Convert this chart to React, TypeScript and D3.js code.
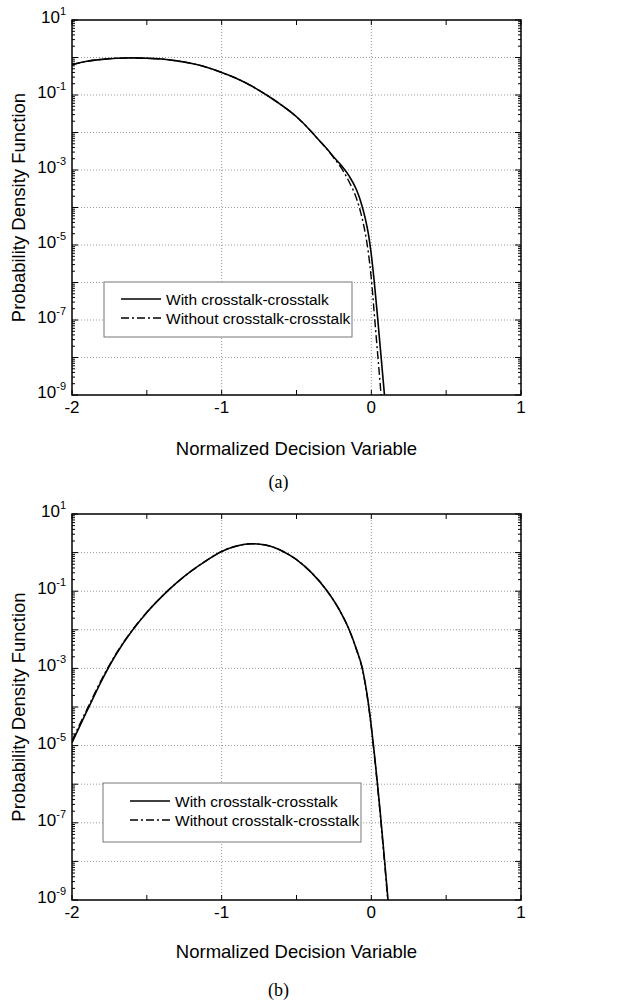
import React from "react";
import * as d3 from "d3";

// ---------- data ----------
// Panel (a)
const aSolidX = [-2.0, -1.9, -1.8, -1.7, -1.6, -1.5, -1.4, -1.3, -1.2, -1.1, -1.0, -0.9, -0.8, -0.7, -0.6, -0.5, -0.4, -0.36, -0.3, -0.25, -0.2, -0.15, -0.1, -0.07, -0.04, -0.02, 0.0, 0.02, 0.04, 0.06, 0.08, 0.09];
const aSolidP = [0.646, 0.794, 0.891, 0.955, 0.977, 0.955, 0.912, 0.813, 0.692, 0.55, 0.398, 0.275, 0.174, 0.1, 0.0537, 0.0263, 0.0105, 0.00692, 0.0038, 0.00219, 0.00132, 7.08e-4, 3.02e-4, 1.41e-4, 5.0e-5, 2.0e-5, 5.5e-6, 1e-6, 1.41e-7, 1.78e-8, 2.24e-9, 7.9e-10];
const aDashX = [-2.0, -1.9, -1.8, -1.7, -1.6, -1.5, -1.4, -1.3, -1.2, -1.1, -1.0, -0.9, -0.8, -0.7, -0.6, -0.5, -0.4, -0.36, -0.3, -0.25, -0.2, -0.15, -0.1, -0.07, -0.04, -0.02, 0.0, 0.02, 0.04, 0.06, 0.066];
const aDashP = [0.646, 0.794, 0.891, 0.955, 0.977, 0.955, 0.912, 0.813, 0.692, 0.55, 0.398, 0.275, 0.174, 0.1, 0.0537, 0.0263, 0.0105, 0.00692, 0.00372, 0.00209, 0.00112, 5.0e-4, 1.78e-4, 7.08e-5, 2.0e-5, 6.3e-6, 1.26e-6, 1.41e-7, 1.58e-8, 1.78e-9, 8.9e-10];

// Panel (b)
const bSolidX = [-2.0, -1.9, -1.8, -1.7, -1.6, -1.5, -1.4, -1.3, -1.2, -1.1, -1.0, -0.9, -0.8, -0.7, -0.6, -0.5, -0.4, -0.3, -0.2, -0.15, -0.1, -0.06, -0.04, -0.02, 0.0, 0.02, 0.04, 0.06, 0.08, 0.1, 0.112];
const bSolidP = [1.2e-5, 7.9e-5, 5.0e-4, 2.5e-3, 9.3e-3, 0.0282, 0.0724, 0.166, 0.339, 0.631, 1.07, 1.48, 1.7, 1.55, 1.12, 0.661, 0.302, 0.107, 0.0263, 0.0105, 3.16e-3, 1e-3, 3.98e-4, 1.26e-4, 3.16e-5, 6.3e-6, 1.12e-6, 1.78e-7, 2.5e-8, 3.3e-9, 9.5e-10];
const bDashX = [-2.0, -1.9, -1.8, -1.7, -1.6, -1.5, -1.4, -1.3, -1.2, -1.1, -1.0, -0.9, -0.8, -0.7, -0.6, -0.5, -0.4, -0.3, -0.2, -0.15, -0.1, -0.06, -0.04, -0.02, 0.0, 0.02, 0.04, 0.06, 0.08, 0.1, 0.11];
const bDashP = [1.35e-5, 8.7e-5, 5.4e-4, 2.6e-3, 9.5e-3, 0.0285, 0.0728, 0.166, 0.339, 0.631, 1.07, 1.48, 1.7, 1.55, 1.12, 0.661, 0.302, 0.107, 0.0263, 0.0105, 3.1e-3, 9.6e-4, 3.8e-4, 1.18e-4, 2.9e-5, 5.6e-6, 1.0e-6, 1.55e-7, 2.1e-8, 2.8e-9, 9.5e-10];

const xTicks = [-2, -1.5, -1, -0.5, 0, 0.5, 1];
const xTickLabels = ["-2", "", "-1", "", "0", "", "1"];
const xGrid = [-1, 0];
const yExponents = [1, 0, -1, -2, -3, -4, -5, -6, -7, -8, -9];
const yLabelExponents = [1, -1, -3, -5, -7, -9];

const legendLabels = ["With crosstalk-crosstalk", "Without crosstalk-crosstalk"];
const xTitle = "Normalized Decision Variable";
const yTitle = "Probability Density Function";

const FONT = "Arial, 'Liberation Sans', Helvetica, sans-serif";
const SERIF = "'Times New Roman', 'Liberation Serif', Times, serif";
const DASHDOT = "8,3,2,3";

type PanelProps = {
  top: number;
  bottom: number;
  solidX: number[];
  solidP: number[];
  dashX: number[];
  dashP: number[];
  legend: { x0: number; y0: number; x1: number; y1: number; lx0: number; lx1: number; tx: number; ly1: number; ly2: number };
  caption: string;
  titleY: number;
  captionY: number;
  id: string;
};

function Panel(props: PanelProps) {
  const { top, bottom, solidX, solidP, dashX, dashP, legend, caption, titleY, captionY, id } = props;
  const left = 72;
  const right = 521;
  const x = d3.scaleLinear().domain([-2, 1]).range([left, right]);
  const y = d3.scaleLog().domain([1e-9, 10]).range([bottom, top]);

  const line = d3
    .line<[number, number]>()
    .x((d) => x(d[0]))
    .y((d) => y(d[1]))
    .curve(d3.curveMonotoneX);

  const solidPts = solidX.map((v, i) => [v, solidP[i]] as [number, number]);
  const dashPts = dashX.map((v, i) => [v, dashP[i]] as [number, number]);

  const minor: number[] = [];
  for (let e = -9; e < 1; e++) {
    for (let k = 2; k <= 9; k++) minor.push(k * Math.pow(10, e));
  }

  const midY = (top + bottom) / 2;

  return (
    <g>
      <defs>
        <clipPath id={id}>
          <rect x={left} y={top} width={right - left} height={bottom - top} />
        </clipPath>
      </defs>
      {/* grid */}
      {yExponents.slice(1, -1).map((e) => (
        <line key={"gy" + e} x1={left} x2={right} y1={y(Math.pow(10, e))} y2={y(Math.pow(10, e))} stroke="#999" strokeWidth={1} strokeDasharray="1,2" />
      ))}
      {xGrid.map((v) => (
        <line key={"gx" + v} x1={x(v)} x2={x(v)} y1={top} y2={bottom} stroke="#999" strokeWidth={1} strokeDasharray="1,2" />
      ))}
      {/* legend */}
      <rect x={legend.x0} y={legend.y0} width={legend.x1 - legend.x0} height={legend.y1 - legend.y0} fill="#fff" stroke="#777" strokeWidth={1} />
      <line x1={legend.lx0} x2={legend.lx1} y1={legend.ly1} y2={legend.ly1} stroke="#000" strokeWidth={1.5} />
      <line x1={legend.lx0} x2={legend.lx1} y1={legend.ly2} y2={legend.ly2} stroke="#000" strokeWidth={1.5} strokeDasharray={DASHDOT} />
      <text x={legend.tx} y={legend.ly1 + 5.5} fontFamily={FONT} fontSize={15.5}>{legendLabels[0]}</text>
      <text x={legend.tx} y={legend.ly2 + 5.5} fontFamily={FONT} fontSize={15.5}>{legendLabels[1]}</text>
      {/* curves */}
      <g clipPath={`url(#${id})`}>
        <path d={line(solidPts) || ""} fill="none" stroke="#000" strokeWidth={1.6} />
        <path d={line(dashPts) || ""} fill="none" stroke="#000" strokeWidth={1.4} strokeDasharray={DASHDOT} />
      </g>
      {/* ticks */}
      {xTicks.map((v) => (
        <g key={"xt" + v}>
          <line x1={x(v)} x2={x(v)} y1={bottom} y2={bottom - 5} stroke="#000" strokeWidth={1} />
          <line x1={x(v)} x2={x(v)} y1={top} y2={top + 5} stroke="#000" strokeWidth={1} />
        </g>
      ))}
      {minor.map((v, i) => (
        <g key={"mt" + i}>
          <line x1={left} x2={left + 3} y1={y(v)} y2={y(v)} stroke="#000" strokeWidth={1} />
          <line x1={right} x2={right - 3} y1={y(v)} y2={y(v)} stroke="#000" strokeWidth={1} />
        </g>
      ))}
      {yExponents.map((e) => (
        <g key={"yt" + e}>
          <line x1={left} x2={left + 6} y1={y(Math.pow(10, e))} y2={y(Math.pow(10, e))} stroke="#000" strokeWidth={1} />
          <line x1={right} x2={right - 6} y1={y(Math.pow(10, e))} y2={y(Math.pow(10, e))} stroke="#000" strokeWidth={1} />
        </g>
      ))}
      {yLabelExponents.map((e) => (
        <text key={"yl" + e} x={66} y={y(Math.pow(10, e)) + 3} textAnchor="end" fontFamily={FONT} fontSize={17}>
          <tspan>10</tspan>
          <tspan dy={-8} fontSize={11}>{String(e)}</tspan>
        </text>
      ))}
      {/* frame */}
      <rect x={left} y={top} width={right - left} height={bottom - top} fill="none" stroke="#000" strokeWidth={1.5} />
      {/* x tick labels */}
      {xTicks.map((v, i) =>
        xTickLabels[i] ? (
          <text key={"xl" + v} x={x(v)} y={bottom + 18} textAnchor="middle" fontFamily={FONT} fontSize={17}>
            {xTickLabels[i]}
          </text>
        ) : null
      )}
      {/* titles */}
      <text x={(left + right) / 2} y={titleY} textAnchor="middle" fontFamily={FONT} fontSize={18.5}>{xTitle}</text>
      <text transform={`translate(25,${midY}) rotate(-90)`} textAnchor="middle" fontFamily={FONT} fontSize={18.5}>{yTitle}</text>
      <text x={(left + right) / 2 - 18} y={captionY} textAnchor="middle" fontFamily={SERIF} fontSize={18}>{caption}</text>
    </g>
  );
}

export default function App() {
  return (
    <svg width={627} height={1001} style={{ position: "absolute", left: 0, top: 0, background: "#fff" }}>
      <rect x={0} y={0} width={627} height={1001} fill="#fff" />
      <Panel
        id="clipA"
        top={20}
        bottom={395}
        solidX={aSolidX}
        solidP={aSolidP}
        dashX={aDashX}
        dashP={aDashP}
        legend={{ x0: 104, y0: 282, x1: 352, y1: 337, lx0: 121, lx1: 161, tx: 166, ly1: 299, ly2: 318 }}
        caption="(a)"
        titleY={455}
        captionY={488}
      />
      <Panel
        id="clipB"
        top={514}
        bottom={900}
        solidX={bSolidX}
        solidP={bSolidP}
        dashX={bDashX}
        dashP={bDashP}
        legend={{ x0: 103, y0: 783, x1: 361, y1: 842, lx0: 130, lx1: 170, tx: 175, ly1: 801, ly2: 820 }}
        caption="(b)"
        titleY={958}
        captionY={996}
      />
    </svg>
  );
}
